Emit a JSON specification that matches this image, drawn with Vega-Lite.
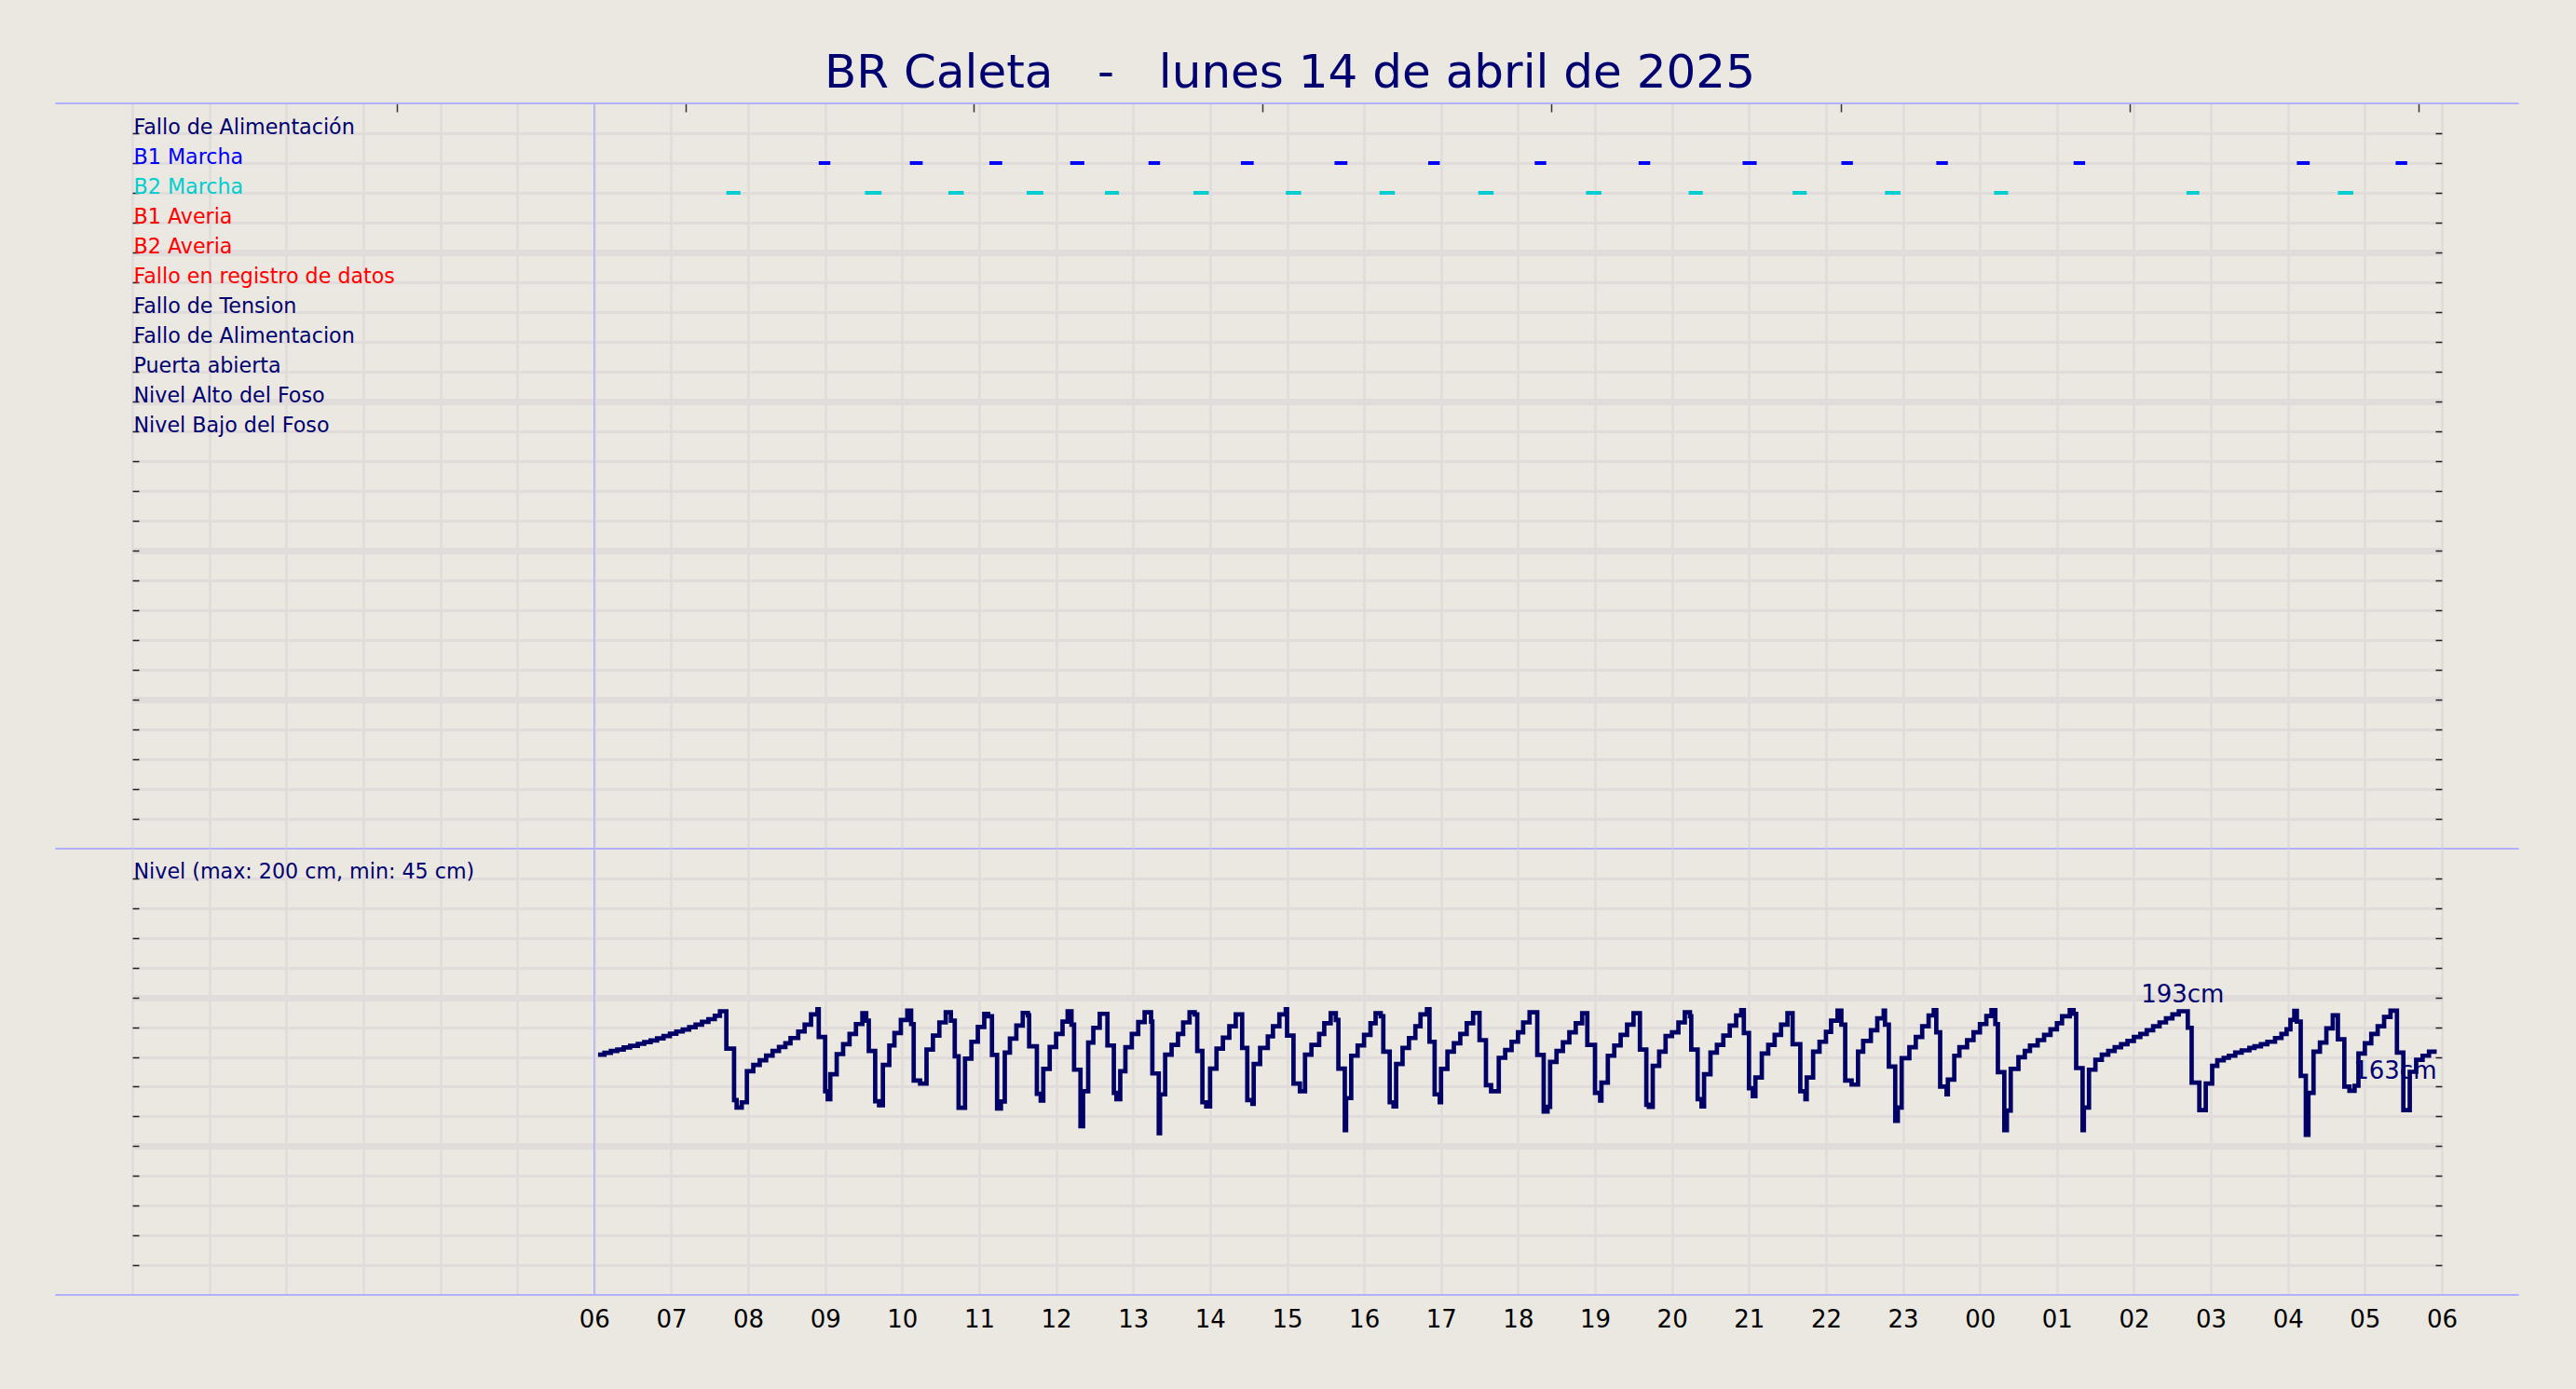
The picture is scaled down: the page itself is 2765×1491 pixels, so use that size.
{
  "$schema": "https://vega.github.io/schema/vega-lite/v6.json",
  "background": "#ebe7e1",
  "autosize": {"type": "pad"},
  "padding": {"left": 57, "top": 53, "right": 65, "bottom": 62},
  "title": {
    "text": "BR Caleta \u00a0 - \u00a0 lunes 14 de abril de 2025",
    "font": "DejaVu Sans",
    "fontSize": 50,
    "fontWeight": "normal",
    "color": "#000070",
    "anchor": "middle",
    "frame": "group",
    "baseline": "alphabetic",
    "offset": -34,
    "dx": 3
  },
  "config": {
    "font": "DejaVu Sans",
    "view": {"stroke": "transparent"}
  },
  "datasets": {
    "bombas": [
      {"pump": "B1 Marcha", "row": 2, "start": 535, "end": 544},
      {"pump": "B1 Marcha", "row": 2, "start": 606, "end": 616},
      {"pump": "B1 Marcha", "row": 2, "start": 668, "end": 678},
      {"pump": "B1 Marcha", "row": 2, "start": 731, "end": 742},
      {"pump": "B1 Marcha", "row": 2, "start": 792, "end": 801},
      {"pump": "B1 Marcha", "row": 2, "start": 864, "end": 874},
      {"pump": "B1 Marcha", "row": 2, "start": 937, "end": 947},
      {"pump": "B1 Marcha", "row": 2, "start": 1010, "end": 1019},
      {"pump": "B1 Marcha", "row": 2, "start": 1093, "end": 1102},
      {"pump": "B1 Marcha", "row": 2, "start": 1174, "end": 1183},
      {"pump": "B1 Marcha", "row": 2, "start": 1255, "end": 1266},
      {"pump": "B1 Marcha", "row": 2, "start": 1332, "end": 1341},
      {"pump": "B1 Marcha", "row": 2, "start": 1406, "end": 1415},
      {"pump": "B1 Marcha", "row": 2, "start": 1513, "end": 1522},
      {"pump": "B1 Marcha", "row": 2, "start": 1687, "end": 1697},
      {"pump": "B1 Marcha", "row": 2, "start": 1764, "end": 1773},
      {"pump": "B2 Marcha", "row": 3, "start": 463, "end": 474},
      {"pump": "B2 Marcha", "row": 3, "start": 571, "end": 584},
      {"pump": "B2 Marcha", "row": 3, "start": 636, "end": 648},
      {"pump": "B2 Marcha", "row": 3, "start": 697, "end": 710},
      {"pump": "B2 Marcha", "row": 3, "start": 758, "end": 769},
      {"pump": "B2 Marcha", "row": 3, "start": 827, "end": 839},
      {"pump": "B2 Marcha", "row": 3, "start": 899, "end": 911},
      {"pump": "B2 Marcha", "row": 3, "start": 972, "end": 984},
      {"pump": "B2 Marcha", "row": 3, "start": 1049, "end": 1061},
      {"pump": "B2 Marcha", "row": 3, "start": 1133, "end": 1145},
      {"pump": "B2 Marcha", "row": 3, "start": 1213, "end": 1224},
      {"pump": "B2 Marcha", "row": 3, "start": 1294, "end": 1305},
      {"pump": "B2 Marcha", "row": 3, "start": 1366, "end": 1378},
      {"pump": "B2 Marcha", "row": 3, "start": 1451, "end": 1462},
      {"pump": "B2 Marcha", "row": 3, "start": 1601, "end": 1611},
      {"pump": "B2 Marcha", "row": 3, "start": 1719, "end": 1731}
    ],
    "nivel": [
      {"t": 363, "cm": 161.5}, {"t": 368, "cm": 162.7}, {"t": 373, "cm": 164.0}, {"t": 378, "cm": 165.0},
      {"t": 383, "cm": 166.3}, {"t": 388, "cm": 167.5}, {"t": 394, "cm": 168.8}, {"t": 399, "cm": 170.0},
      {"t": 404, "cm": 171.0}, {"t": 409, "cm": 172.5}, {"t": 414, "cm": 174.0}, {"t": 419, "cm": 175.6},
      {"t": 424, "cm": 177.1}, {"t": 429, "cm": 178.4}, {"t": 434, "cm": 180.0}, {"t": 439, "cm": 181.7},
      {"t": 444, "cm": 183.6}, {"t": 449, "cm": 185.4}, {"t": 454, "cm": 187.7}, {"t": 458, "cm": 190.7},
      {"t": 463, "cm": 165.6}, {"t": 469, "cm": 131.0}, {"t": 471, "cm": 126.0}, {"t": 475, "cm": 129.5},
      {"t": 479, "cm": 150.4}, {"t": 484, "cm": 154.6}, {"t": 489, "cm": 157.7}, {"t": 494, "cm": 160.9},
      {"t": 499, "cm": 164.0}, {"t": 504, "cm": 166.7}, {"t": 509, "cm": 169.2}, {"t": 513, "cm": 172.7},
      {"t": 519, "cm": 177.1}, {"t": 524, "cm": 181.7}, {"t": 529, "cm": 188.6}, {"t": 534, "cm": 192.1},
      {"t": 535, "cm": 173.4}, {"t": 540, "cm": 136.9}, {"t": 542, "cm": 131.6}, {"t": 544, "cm": 148.3},
      {"t": 549, "cm": 161.9}, {"t": 554, "cm": 168.6}, {"t": 559, "cm": 175.4}, {"t": 564, "cm": 182.1},
      {"t": 569, "cm": 189.4}, {"t": 572, "cm": 184.4}, {"t": 574, "cm": 164.0}, {"t": 579, "cm": 130.2},
      {"t": 582, "cm": 127.5}, {"t": 585, "cm": 154.6}, {"t": 590, "cm": 167.7}, {"t": 594, "cm": 176.1},
      {"t": 599, "cm": 184.8}, {"t": 604, "cm": 191.1}, {"t": 607, "cm": 182.1}, {"t": 609, "cm": 144.1},
      {"t": 614, "cm": 142.1}, {"t": 619, "cm": 165.0}, {"t": 624, "cm": 174.4}, {"t": 629, "cm": 183.2},
      {"t": 634, "cm": 190.0}, {"t": 638, "cm": 184.4}, {"t": 641, "cm": 160.4}, {"t": 644, "cm": 125.8},
      {"t": 649, "cm": 158.8}, {"t": 654, "cm": 170.2}, {"t": 659, "cm": 180.2}, {"t": 664, "cm": 189.0},
      {"t": 667, "cm": 187.3}, {"t": 670, "cm": 161.3}, {"t": 674, "cm": 125.4}, {"t": 677, "cm": 130.0},
      {"t": 680, "cm": 162.9}, {"t": 684, "cm": 172.3}, {"t": 689, "cm": 181.1}, {"t": 694, "cm": 189.6},
      {"t": 698, "cm": 188.0}, {"t": 699, "cm": 167.1}, {"t": 705, "cm": 135.2}, {"t": 708, "cm": 130.6},
      {"t": 710, "cm": 151.9}, {"t": 715, "cm": 166.7}, {"t": 720, "cm": 175.4}, {"t": 725, "cm": 183.8},
      {"t": 729, "cm": 190.7}, {"t": 732, "cm": 181.7}, {"t": 734, "cm": 151.4}, {"t": 739, "cm": 113.5},
      {"t": 741, "cm": 136.9}, {"t": 745, "cm": 169.6}, {"t": 749, "cm": 179.6}, {"t": 754, "cm": 189.0},
      {"t": 760, "cm": 167.7}, {"t": 765, "cm": 135.8}, {"t": 767, "cm": 131.6}, {"t": 770, "cm": 150.4},
      {"t": 774, "cm": 166.5}, {"t": 779, "cm": 175.4}, {"t": 784, "cm": 183.4}, {"t": 789, "cm": 190.0},
      {"t": 794, "cm": 183.8}, {"t": 795, "cm": 148.9}, {"t": 800, "cm": 108.7}, {"t": 801, "cm": 134.8},
      {"t": 805, "cm": 161.5}, {"t": 810, "cm": 168.1}, {"t": 815, "cm": 175.4}, {"t": 819, "cm": 183.2},
      {"t": 824, "cm": 190.0}, {"t": 828, "cm": 188.6}, {"t": 830, "cm": 164.0}, {"t": 834, "cm": 129.5},
      {"t": 837, "cm": 126.8}, {"t": 840, "cm": 152.1}, {"t": 845, "cm": 165.6}, {"t": 850, "cm": 172.9},
      {"t": 855, "cm": 180.6}, {"t": 860, "cm": 188.6}, {"t": 865, "cm": 166.1}, {"t": 869, "cm": 131.0},
      {"t": 873, "cm": 128.5}, {"t": 874, "cm": 155.2}, {"t": 879, "cm": 166.1}, {"t": 885, "cm": 173.8},
      {"t": 889, "cm": 180.6}, {"t": 894, "cm": 188.6}, {"t": 899, "cm": 192.1}, {"t": 900, "cm": 174.4},
      {"t": 905, "cm": 142.1}, {"t": 910, "cm": 136.9}, {"t": 914, "cm": 161.5}, {"t": 919, "cm": 168.1},
      {"t": 925, "cm": 175.4}, {"t": 929, "cm": 182.7}, {"t": 934, "cm": 189.4}, {"t": 938, "cm": 184.8},
      {"t": 940, "cm": 152.1}, {"t": 945, "cm": 110.8}, {"t": 946, "cm": 132.3}, {"t": 950, "cm": 160.8},
      {"t": 955, "cm": 167.7}, {"t": 960, "cm": 174.8}, {"t": 965, "cm": 182.7}, {"t": 969, "cm": 189.4},
      {"t": 973, "cm": 187.3}, {"t": 975, "cm": 163.5}, {"t": 980, "cm": 129.5}, {"t": 983, "cm": 126.8},
      {"t": 985, "cm": 155.2}, {"t": 990, "cm": 166.1}, {"t": 995, "cm": 172.7}, {"t": 1000, "cm": 180.6},
      {"t": 1004, "cm": 188.6}, {"t": 1009, "cm": 192.1}, {"t": 1011, "cm": 170.2}, {"t": 1015, "cm": 134.8},
      {"t": 1019, "cm": 129.5}, {"t": 1020, "cm": 151.9}, {"t": 1025, "cm": 163.5}, {"t": 1030, "cm": 169.2},
      {"t": 1035, "cm": 175.4}, {"t": 1040, "cm": 182.7}, {"t": 1045, "cm": 189.6}, {"t": 1050, "cm": 171.3},
      {"t": 1055, "cm": 141.0}, {"t": 1059, "cm": 136.9}, {"t": 1065, "cm": 159.4}, {"t": 1070, "cm": 164.6},
      {"t": 1075, "cm": 170.2}, {"t": 1080, "cm": 176.5}, {"t": 1084, "cm": 183.2}, {"t": 1089, "cm": 190.0},
      {"t": 1095, "cm": 161.3}, {"t": 1100, "cm": 123.3}, {"t": 1103, "cm": 126.4}, {"t": 1105, "cm": 156.7},
      {"t": 1110, "cm": 164.0}, {"t": 1115, "cm": 169.8}, {"t": 1120, "cm": 176.5}, {"t": 1125, "cm": 182.7},
      {"t": 1130, "cm": 189.4}, {"t": 1134, "cm": 168.1}, {"t": 1140, "cm": 135.8}, {"t": 1144, "cm": 130.6},
      {"t": 1145, "cm": 142.7}, {"t": 1150, "cm": 160.8}, {"t": 1155, "cm": 167.7}, {"t": 1160, "cm": 174.8},
      {"t": 1165, "cm": 181.7}, {"t": 1170, "cm": 189.4}, {"t": 1175, "cm": 165.0}, {"t": 1180, "cm": 127.9},
      {"t": 1182, "cm": 126.4}, {"t": 1185, "cm": 154.0}, {"t": 1190, "cm": 163.5}, {"t": 1195, "cm": 174.0},
      {"t": 1200, "cm": 176.5}, {"t": 1205, "cm": 183.2}, {"t": 1210, "cm": 190.0}, {"t": 1214, "cm": 187.3},
      {"t": 1215, "cm": 165.0}, {"t": 1220, "cm": 131.6}, {"t": 1223, "cm": 126.8}, {"t": 1225, "cm": 148.3},
      {"t": 1230, "cm": 162.9}, {"t": 1235, "cm": 168.1}, {"t": 1240, "cm": 174.4}, {"t": 1245, "cm": 181.1},
      {"t": 1250, "cm": 187.9}, {"t": 1254, "cm": 191.5}, {"t": 1256, "cm": 176.1}, {"t": 1260, "cm": 138.9},
      {"t": 1263, "cm": 133.7}, {"t": 1265, "cm": 146.2}, {"t": 1270, "cm": 162.3}, {"t": 1275, "cm": 168.1},
      {"t": 1280, "cm": 174.8}, {"t": 1285, "cm": 181.7}, {"t": 1290, "cm": 189.4}, {"t": 1294, "cm": 168.6},
      {"t": 1300, "cm": 136.9}, {"t": 1304, "cm": 131.6}, {"t": 1305, "cm": 146.2}, {"t": 1310, "cm": 163.5},
      {"t": 1315, "cm": 170.2}, {"t": 1320, "cm": 176.9}, {"t": 1324, "cm": 184.4}, {"t": 1329, "cm": 191.1},
      {"t": 1332, "cm": 181.7}, {"t": 1335, "cm": 144.1}, {"t": 1340, "cm": 141.4}, {"t": 1345, "cm": 163.5},
      {"t": 1349, "cm": 170.8}, {"t": 1355, "cm": 177.9}, {"t": 1360, "cm": 185.9}, {"t": 1365, "cm": 191.1},
      {"t": 1366, "cm": 181.7}, {"t": 1369, "cm": 153.5}, {"t": 1374, "cm": 117.0}, {"t": 1376, "cm": 126.0},
      {"t": 1379, "cm": 159.2}, {"t": 1385, "cm": 166.5}, {"t": 1390, "cm": 173.4}, {"t": 1395, "cm": 180.6},
      {"t": 1400, "cm": 187.9}, {"t": 1404, "cm": 191.5}, {"t": 1406, "cm": 176.5}, {"t": 1409, "cm": 140.0},
      {"t": 1414, "cm": 134.8}, {"t": 1415, "cm": 144.8}, {"t": 1420, "cm": 160.8}, {"t": 1424, "cm": 166.5},
      {"t": 1430, "cm": 171.3}, {"t": 1435, "cm": 176.5}, {"t": 1440, "cm": 182.1}, {"t": 1445, "cm": 187.5},
      {"t": 1449, "cm": 191.5}, {"t": 1452, "cm": 182.1}, {"t": 1454, "cm": 149.8}, {"t": 1459, "cm": 110.8},
      {"t": 1461, "cm": 123.9}, {"t": 1464, "cm": 151.9}, {"t": 1470, "cm": 159.8}, {"t": 1475, "cm": 164.0},
      {"t": 1479, "cm": 167.7}, {"t": 1485, "cm": 171.3}, {"t": 1490, "cm": 174.8}, {"t": 1495, "cm": 178.6},
      {"t": 1500, "cm": 182.7}, {"t": 1504, "cm": 187.3}, {"t": 1510, "cm": 191.5}, {"t": 1513, "cm": 189.0},
      {"t": 1515, "cm": 152.5}, {"t": 1520, "cm": 110.8}, {"t": 1521, "cm": 126.0}, {"t": 1525, "cm": 151.4},
      {"t": 1530, "cm": 158.1}, {"t": 1535, "cm": 161.5}, {"t": 1540, "cm": 164.0}, {"t": 1545, "cm": 166.5},
      {"t": 1550, "cm": 168.6}, {"t": 1555, "cm": 170.8}, {"t": 1560, "cm": 173.4}, {"t": 1565, "cm": 175.4},
      {"t": 1570, "cm": 177.9}, {"t": 1575, "cm": 180.6}, {"t": 1580, "cm": 183.2}, {"t": 1585, "cm": 185.9},
      {"t": 1590, "cm": 188.6}, {"t": 1595, "cm": 190.7}, {"t": 1602, "cm": 179.6}, {"t": 1605, "cm": 142.7},
      {"t": 1611, "cm": 124.3}, {"t": 1616, "cm": 142.1}, {"t": 1621, "cm": 154.0}, {"t": 1625, "cm": 157.7},
      {"t": 1630, "cm": 159.4}, {"t": 1634, "cm": 160.8}, {"t": 1639, "cm": 162.9}, {"t": 1644, "cm": 164.4},
      {"t": 1650, "cm": 166.1}, {"t": 1654, "cm": 167.1}, {"t": 1659, "cm": 168.5}, {"t": 1664, "cm": 170.2},
      {"t": 1670, "cm": 172.7}, {"t": 1675, "cm": 175.4}, {"t": 1679, "cm": 178.6}, {"t": 1682, "cm": 184.8},
      {"t": 1685, "cm": 191.0}, {"t": 1687, "cm": 183.8}, {"t": 1690, "cm": 147.3}, {"t": 1694, "cm": 107.7},
      {"t": 1696, "cm": 135.8}, {"t": 1700, "cm": 163.5}, {"t": 1705, "cm": 169.6}, {"t": 1710, "cm": 179.2},
      {"t": 1715, "cm": 188.0}, {"t": 1719, "cm": 171.9}, {"t": 1724, "cm": 140.0}, {"t": 1728, "cm": 137.2},
      {"t": 1732, "cm": 140.6}, {"t": 1735, "cm": 162.3}, {"t": 1740, "cm": 169.2}, {"t": 1745, "cm": 175.4},
      {"t": 1750, "cm": 180.6}, {"t": 1755, "cm": 186.9}, {"t": 1760, "cm": 191.1}, {"t": 1765, "cm": 162.9},
      {"t": 1770, "cm": 124.3}, {"t": 1775, "cm": 150.0}, {"t": 1780, "cm": 158.1}, {"t": 1785, "cm": 160.8},
      {"t": 1790, "cm": 163.5}, {"t": 1796, "cm": 163.5}
    ]
  },
  "spacing": 0,
  "bounds": "flush",
  "vconcat": [
    {
      "width": 2479,
      "height": 800,
      "resolve": {"axis": {"x": "independent", "y": "independent"}},
      "layer": [
        {
          "data": {"name": "bombas"},
          "mark": {"type": "rule", "strokeWidth": 4, "strokeCap": "butt"},
          "encoding": {
            "x": {
              "field": "start", "type": "quantitative",
              "scale": {"domain": [0, 1800]},
              "axis": {
                "orient": "bottom", "values": [0, 60, 120, 180, 240, 300, 360, 420, 480, 540, 600, 660, 720, 780, 840, 900, 960, 1020, 1080, 1140, 1200, 1260, 1320, 1380, 1440, 1500, 1560, 1620, 1680, 1740, 1800],
                "labels": false, "ticks": false, "domain": false, "title": null,
                "grid": true, "gridColor": "#e1dcdb", "gridWidth": 2.7
              }
            },
            "x2": {"field": "end"},
            "y": {
              "field": "row", "type": "quantitative",
              "scale": {"domain": [0, 25], "reverse": true},
              "axis": {
                "orient": "left", "title": null,
                "values": [1, 2, 3, 4, 5, 6, 7, 8, 9, 10, 11, 12, 13, 14, 15, 16, 17, 18, 19, 20, 21, 22, 23, 24],
                "labelExpr": "['', 'Fallo de Alimentación', 'B1 Marcha', 'B2 Marcha', 'B1 Averia', 'B2 Averia', 'Fallo en registro de datos', 'Fallo de Tension', 'Fallo de Alimentacion', 'Puerta abierta', 'Nivel Alto del Foso', 'Nivel Bajo del Foso'][datum.value] || ''",
                "labelColor": {"expr": "datum.value == 2 ? '#0000ff' : datum.value == 3 ? '#00ced1' : (datum.value >= 4 && datum.value <= 6) ? '#ff0000' : '#000070'"},
                "labelAlign": "left", "labelBaseline": "alphabetic", "labelPadding": 6, "labelLimit": 0,
                "labelFont": "DejaVu Sans", "labelFontSize": 22.2, "labelOverlap": false, "labelFlush": false,
                "tickSize": -7, "tickColor": "#222222", "tickWidth": 1.5,
                "domain": false,
                "grid": true, "gridColor": "#e1dcdb",
                "gridWidth": {"condition": {"test": "datum.value % 5 == 0", "value": 7}, "value": 3}
              }
            },
            "color": {
              "field": "pump", "type": "nominal",
              "scale": {"domain": ["B1 Marcha", "B2 Marcha"], "range": ["#0000ff", "#00ced1"]},
              "legend": null
            }
          }
        },
        {
          "data": {"values": [{}]},
          "mark": {"type": "rule", "color": "#b0b0ff", "strokeWidth": 2},
          "encoding": {
            "x": {
              "datum": -60, "type": "quantitative",
              "scale": {"domain": [0, 1800]},
              "axis": {
                "orient": "top", "values": [206, 431, 656, 881, 1106, 1332, 1557, 1782],
                "labels": false, "grid": false, "domain": false, "title": null,
                "tickSize": -9, "tickColor": "#333333", "tickWidth": 1.5
              }
            },
            "x2": {"datum": 1860},
            "y": {
              "datum": 0, "type": "quantitative",
              "scale": {"domain": [0, 25], "reverse": true},
              "axis": {
                "orient": "right", "title": null,
                "values": [1, 2, 3, 4, 5, 6, 7, 8, 9, 10, 11, 12, 13, 14, 15, 16, 17, 18, 19, 20, 21, 22, 23, 24],
                "labels": false, "grid": false, "domain": false,
                "tickSize": -7, "tickColor": "#222222", "tickWidth": 1.5
              }
            }
          }
        },
        {
          "data": {"values": [{}]},
          "mark": {"type": "rule", "color": "#b0b0ff", "strokeWidth": 2},
          "encoding": {
            "x": {"datum": -60, "type": "quantitative", "scale": {"domain": [0, 1800]}, "axis": null},
            "x2": {"datum": 1860},
            "y": {"datum": 25, "type": "quantitative", "scale": {"domain": [0, 25], "reverse": true}, "axis": null}
          }
        },
        {
          "data": {"values": [{}]},
          "mark": {"type": "rule", "color": "#b0b0ff", "strokeWidth": 1.5},
          "encoding": {
            "x": {"datum": 360, "type": "quantitative", "scale": {"domain": [0, 1800]}, "axis": null}
          }
        }
      ]
    },
    {
      "width": 2479,
      "height": 479,
      "resolve": {"axis": {"x": "independent", "y": "independent"}},
      "layer": [
        {
          "data": {"name": "nivel"},
          "mark": {"type": "line", "interpolate": "step-after", "stroke": "#000066", "strokeWidth": 4.7},
          "encoding": {
            "x": {
              "field": "t", "type": "quantitative",
              "scale": {"domain": [0, 1800]},
              "axis": {
                "orient": "bottom", "values": [0, 60, 120, 180, 240, 300, 360, 420, 480, 540, 600, 660, 720, 780, 840, 900, 960, 1020, 1080, 1140, 1200, 1260, 1320, 1380, 1440, 1500, 1560, 1620, 1680, 1740, 1800],
                "labelExpr": "datum.value < 360 ? '' : (floor(datum.value / 60) % 24 < 10 ? '0' : '') + (floor(datum.value / 60) % 24)",
                "labelFont": "DejaVu Sans", "labelFontSize": 26, "labelColor": "#000000",
                "labelPadding": 13, "labelFlush": false, "labelOverlap": false,
                "ticks": false, "domain": false, "title": null,
                "grid": true, "gridColor": "#e1dcdb", "gridWidth": 2.7
              }
            },
            "y": {
              "field": "cm", "type": "quantitative",
              "scale": {"domain": [0, 300]},
              "axis": {
                "orient": "left", "title": null,
                "values": [20, 40, 60, 80, 100, 120, 140, 160, 180, 200, 220, 240, 260, 280],
                "labelExpr": "datum.value == 280 ? 'Nivel (max: 200 cm, min: 45 cm)' : ''",
                "labelColor": "#000070", "labelAlign": "left", "labelBaseline": "alphabetic", "labelPadding": 6, "labelLimit": 0,
                "labelFont": "DejaVu Sans", "labelFontSize": 22.2, "labelOverlap": false, "labelFlush": false,
                "tickSize": -7, "tickColor": "#222222", "tickWidth": 1.5,
                "domain": false,
                "grid": true, "gridColor": "#e1dcdb",
                "gridWidth": {"condition": {"test": "datum.value % 100 == 0", "value": 7}, "value": 3}
              }
            }
          }
        },
        {
          "data": {"values": [{}]},
          "mark": {"type": "rule", "color": "#b0b0ff", "strokeWidth": 2},
          "encoding": {
            "x": {"datum": -60, "type": "quantitative", "scale": {"domain": [0, 1800]}, "axis": null},
            "x2": {"datum": 1860},
            "y": {
              "datum": 0, "type": "quantitative",
              "scale": {"domain": [0, 300]},
              "axis": {
                "orient": "right", "title": null,
                "values": [20, 40, 60, 80, 100, 120, 140, 160, 180, 200, 220, 240, 260, 280],
                "labels": false, "grid": false, "domain": false,
                "tickSize": -7, "tickColor": "#222222", "tickWidth": 1.5
              }
            }
          }
        },
        {
          "data": {"values": [{}]},
          "mark": {"type": "rule", "color": "#b0b0ff", "strokeWidth": 1.5},
          "encoding": {
            "x": {"datum": 360, "type": "quantitative", "scale": {"domain": [0, 1800]}, "axis": null}
          }
        },
        {
          "data": {"values": [{"t": 1598, "cm": 190.7, "txt": "193cm"}]},
          "mark": {"type": "text", "align": "center", "baseline": "alphabetic", "dy": -10, "font": "DejaVu Sans", "fontSize": 26, "color": "#000070"},
          "encoding": {
            "x": {"field": "t", "type": "quantitative", "scale": {"domain": [0, 1800]}, "axis": null},
            "y": {"field": "cm", "type": "quantitative", "scale": {"domain": [0, 300]}, "axis": null},
            "text": {"field": "txt"}
          }
        },
        {
          "data": {"values": [{"t": 1796, "cm": 163.5, "txt": "163cm"}]},
          "mark": {"type": "text", "align": "right", "baseline": "alphabetic", "dy": 29, "font": "DejaVu Sans", "fontSize": 26, "color": "#000070"},
          "encoding": {
            "x": {"field": "t", "type": "quantitative", "scale": {"domain": [0, 1800]}, "axis": null},
            "y": {"field": "cm", "type": "quantitative", "scale": {"domain": [0, 300]}, "axis": null},
            "text": {"field": "txt"}
          }
        }
      ]
    }
  ]
}
